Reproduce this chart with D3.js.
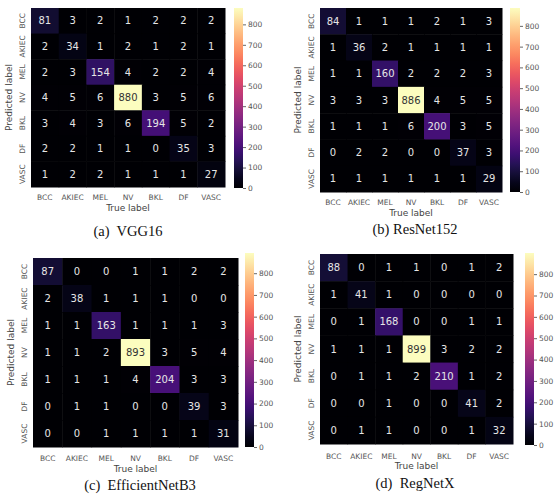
<!DOCTYPE html>
<html>
<head>
<meta charset="utf-8">
<script src="https://cdn.jsdelivr.net/npm/d3@7"></script>
<style>
  body { margin: 0; background: #fff; }
  svg { display: block; }
  .tick-label { font-family: "DejaVu Sans", sans-serif; font-size: 7.5px; fill: #555; }
  .axis-title { font-family: "DejaVu Sans", sans-serif; font-size: 9px; fill: #444; }
  .cell-text { font-family: "DejaVu Sans", sans-serif; font-size: 10px; }
  .caption { font-family: "Liberation Serif", "Times New Roman", serif; font-size: 14.5px; fill: #111; white-space: pre; }
</style>
</head>
<body>
<svg id="chart" width="558" height="495"></svg>
<script>
// class names (rows = predicted, cols = true)
const classes = ['BCC', 'AKIEC', 'MEL', 'NV', 'BKL', 'DF', 'VASC'];
const colorbarTicks = [0, 100, 200, 300, 400, 500, 600, 700, 800];

const vgg16 = [
    [81, 3, 2, 1, 2, 2, 2],
    [2, 34, 1, 2, 1, 2, 1],
    [2, 3, 154, 4, 2, 2, 4],
    [4, 5, 6, 880, 3, 5, 6],
    [3, 4, 3, 6, 194, 5, 2],
    [2, 2, 1, 1, 0, 35, 3],
    [1, 2, 2, 1, 1, 1, 27]
];
const resnet152 = [
    [84, 1, 1, 1, 2, 1, 3],
    [1, 36, 2, 1, 1, 1, 1],
    [1, 1, 160, 2, 2, 2, 3],
    [3, 3, 3, 886, 4, 5, 5],
    [1, 1, 1, 6, 200, 3, 5],
    [0, 2, 2, 0, 0, 37, 3],
    [1, 1, 1, 1, 1, 1, 29]
];
const efficientNetB3 = [
    [87, 0, 0, 1, 1, 2, 2],
    [2, 38, 1, 1, 1, 0, 0],
    [1, 1, 163, 1, 1, 1, 3],
    [1, 1, 2, 893, 3, 5, 4],
    [1, 1, 1, 4, 204, 3, 3],
    [0, 1, 1, 0, 0, 39, 3],
    [0, 0, 1, 1, 1, 1, 31]
];
const regNetX = [
    [88, 0, 1, 1, 0, 1, 2],
    [1, 41, 1, 0, 0, 0, 0],
    [0, 1, 168, 0, 0, 1, 1],
    [1, 1, 1, 899, 3, 2, 2],
    [0, 1, 1, 2, 210, 1, 2],
    [0, 0, 1, 0, 0, 41, 2],
    [0, 1, 1, 0, 0, 1, 32]
];
const captions = ['(a)  VGG16', '(b) ResNet152', '(c)  EfficientNetB3', '(d)  RegNetX'];

const panels = [
    { data: vgg16, caption: captions[0],
      hm: [31, 8, 225, 187], cb: [234, 8, 243, 188], xTickY: 197, xTitleY: 208, capX: 128, capY: 231 },
    { data: resnet152, caption: captions[1],
      hm: [320, 8, 502, 192], cb: [510, 8, 520, 192], xTickY: 202, xTitleY: 213, capX: 415, capY: 229 },
    { data: efficientNetB3, caption: captions[2],
      hm: [33, 258, 238, 447], cb: [245, 253, 254, 447], xTickY: 458, xTitleY: 469, capX: 140, capY: 485 },
    { data: regNetX, caption: captions[3],
      hm: [320, 254, 513, 444], cb: [525, 253, 534, 445], xTickY: 456, xTitleY: 466, capX: 415, capY: 483 }
];

const svg = d3.select('#chart');
const defs = svg.append('defs');

panels.forEach((p, i) => {
    const [x0, y0, x1, y1] = p.hm;
    const max = d3.max(p.data.flat());
    const color = d3.scaleSequential(d3.interpolateMagma).domain([0, max]);

    const x = d3.scaleBand().domain(classes).range([x0, x1]);
    const y = d3.scaleBand().domain(classes).range([y0, y1]);

    const g = svg.append('g');

    // cells
    const cells = [];
    p.data.forEach((row, r) => row.forEach((v, c) => cells.push({ r, c, v })));

    g.selectAll('rect.cell')
        .data(cells)
        .join('rect')
        .attr('class', 'cell')
        .attr('x', d => x(classes[d.c]))
        .attr('y', d => y(classes[d.r]))
        .attr('width', x.bandwidth() + 0.5)
        .attr('height', y.bandwidth() + 0.5)
        .attr('fill', d => color(d.v));

    g.selectAll('text.cell-text')
        .data(cells)
        .join('text')
        .attr('class', 'cell-text')
        .attr('x', d => x(classes[d.c]) + x.bandwidth() / 2)
        .attr('y', d => y(classes[d.r]) + y.bandwidth() / 2)
        .attr('dy', '0.36em')
        .attr('text-anchor', 'middle')
        .attr('fill', d => d.v / max > 0.6 ? '#333' : '#e6e6e6')
        .text(d => d.v);

    // x tick labels
    g.selectAll('text.xt')
        .data(classes)
        .join('text')
        .attr('class', 'tick-label xt')
        .attr('x', d => x(d) + x.bandwidth() / 2)
        .attr('y', p.xTickY)
        .attr('dy', '0.35em')
        .attr('text-anchor', 'middle')
        .text(d => d);

    // y tick labels (rotated)
    g.selectAll('text.yt')
        .data(classes)
        .join('text')
        .attr('class', 'tick-label yt')
        .attr('transform', d => `translate(${x0 - 6},${y(d) + y.bandwidth() / 2}) rotate(-90)`)
        .attr('text-anchor', 'middle')
        .text(d => d);

    g.append('text')
        .attr('class', 'axis-title')
        .attr('x', (x0 + x1) / 2)
        .attr('y', p.xTitleY)
        .attr('dy', '0.35em')
        .attr('text-anchor', 'middle')
        .text('True label');

    g.append('text')
        .attr('class', 'axis-title')
        .attr('transform', `translate(${x0 - 19},${(y0 + y1) / 2}) rotate(-90)`)
        .attr('text-anchor', 'middle')
        .text('Predicted label');

    // colorbar
    const [cx0, cy0, cx1, cy1] = p.cb;
    const gradId = 'grad' + i;
    const grad = defs.append('linearGradient')
        .attr('id', gradId)
        .attr('x1', 0).attr('y1', 1).attr('x2', 0).attr('y2', 0);
    d3.range(0, 1.0001, 0.05).forEach(t => {
        grad.append('stop').attr('offset', t).attr('stop-color', d3.interpolateMagma(t));
    });
    g.append('rect')
        .attr('x', cx0).attr('y', cy0)
        .attr('width', cx1 - cx0).attr('height', cy1 - cy0)
        .attr('fill', `url(#${gradId})`);

    const cbScale = d3.scaleLinear().domain([0, max]).range([cy1, cy0]);
    const cbAxis = d3.axisRight(cbScale).tickValues(colorbarTicks).tickSize(3).tickPadding(2);
    const ag = g.append('g')
        .attr('transform', `translate(${cx1},0)`)
        .call(cbAxis);
    ag.select('.domain').remove();
    ag.selectAll('line').attr('stroke', '#666');
    ag.selectAll('text')
        .attr('class', 'tick-label')
        .attr('font-family', null)
        .attr('font-size', null);

    // caption, vertically centred on capY
    g.append('text')
        .attr('class', 'caption')
        .attr('x', p.capX)
        .attr('y', p.capY)
        .attr('dy', '0.35em')
        .attr('text-anchor', 'middle')
        .text(p.caption);
});
</script>
</body>
</html>
